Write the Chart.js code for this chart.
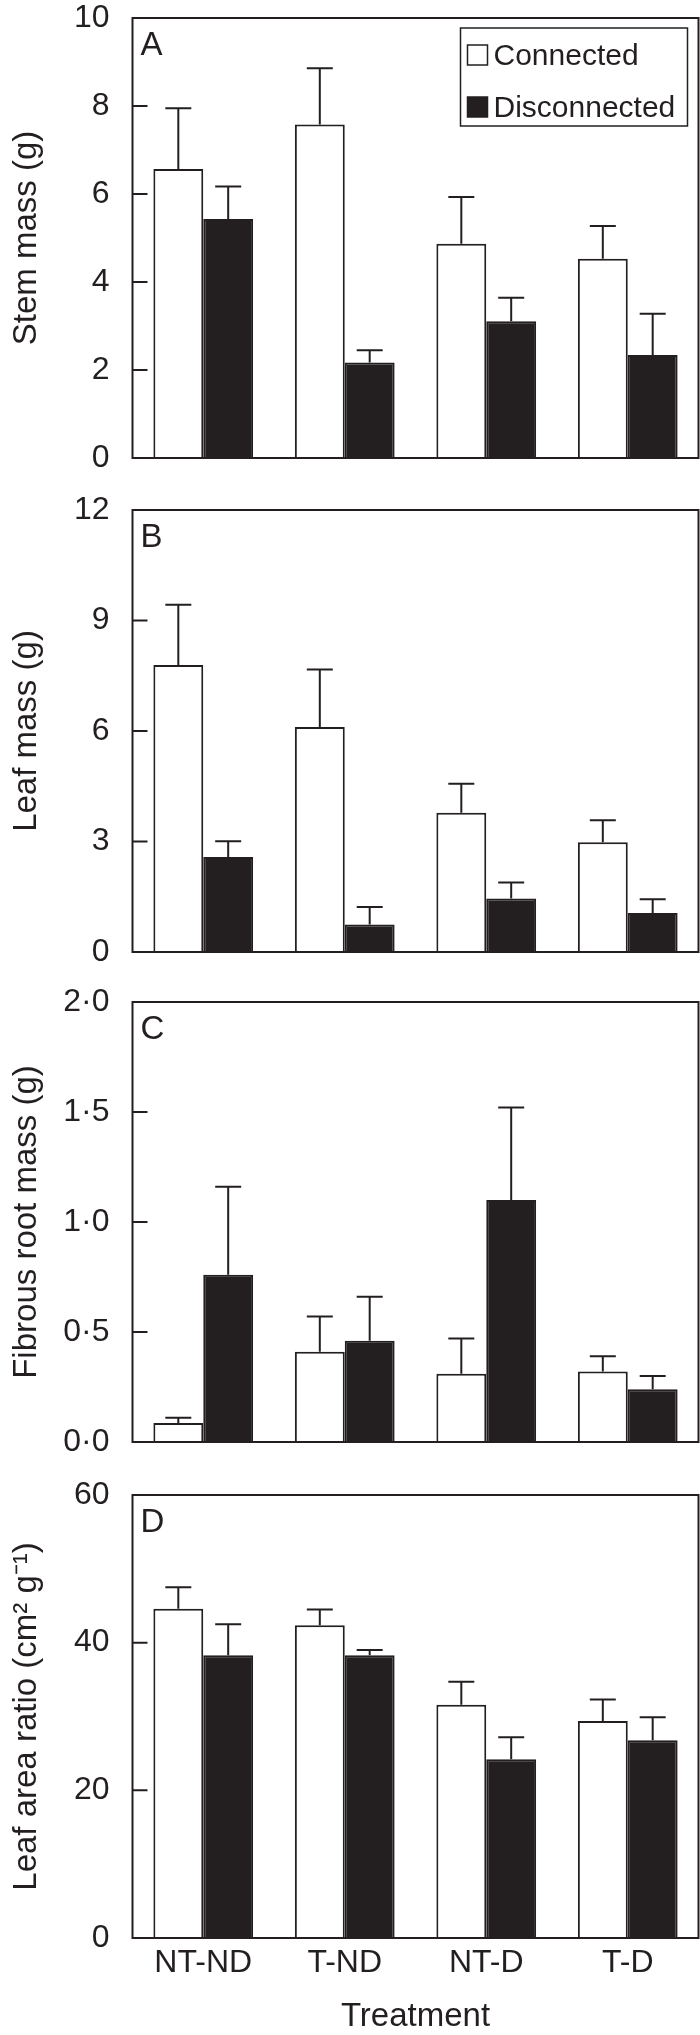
<!DOCTYPE html>
<html>
<head>
<meta charset="utf-8">
<script src="https://cdn.jsdelivr.net/npm/chart.js@4.4.1/dist/chart.umd.min.js"></script>
<style>
  html, body { margin: 0; padding: 0; background: #fff; }
  body { width: 700px; height: 2035px; position: relative; overflow: hidden; }
  canvas { position: absolute; left: 0; }
</style>
</head>
<body>
<canvas id="panelA" width="700" height="530" style="top:-27px"></canvas>
<canvas id="panelB" width="700" height="532" style="top:465px"></canvas>
<canvas id="panelC" width="700" height="530" style="top:957px"></canvas>
<canvas id="panelD" width="700" height="587" style="top:1450px"></canvas>
<script>
// categories + series
const categories = ["NT-ND", "T-ND", "NT-D", "T-D"];
const seriesNames = ["Connected", "Disconnected"];

// A - stem mass (g)
const stemConnected = [6.57, 7.58, 4.87, 4.53];
const stemConnectedSE = [1.38, 1.28, 1.06, 0.74];
const stemDisconnected = [5.43, 2.17, 3.11, 2.34];
const stemDisconnectedSE = [0.74, 0.28, 0.53, 0.94];
const stemTicks = [0, 2, 4, 6, 8, 10];
const stemTickLabels = ["0", "2", "4", "6", "8", "10"];

// B - leaf mass (g)
const leafConnected = [7.79, 6.11, 3.78, 2.98];
const leafConnectedSE = [1.64, 1.56, 0.79, 0.60];
const leafDisconnected = [2.58, 0.75, 1.45, 1.06];
const leafDisconnectedSE = [0.43, 0.47, 0.44, 0.37];
const leafTicks = [0, 3, 6, 9, 12];
const leafTickLabels = ["0", "3", "6", "9", "12"];

// C - fibrous root mass (g)
const rootConnected = [0.086, 0.41, 0.31, 0.32];
const rootConnectedSE = [0.024, 0.16, 0.16, 0.07];
const rootDisconnected = [0.76, 0.46, 1.10, 0.24];
const rootDisconnectedSE = [0.40, 0.20, 0.42, 0.06];
const rootTicks = [0, 0.5, 1, 1.5, 2];
const rootTickLabels = ["0·0", "0·5", "1·0", "1·5", "2·0"];

// D - leaf area ratio
const larConnected = [44.6, 42.35, 31.6, 29.4];
const larConnectedSE = [2.9, 2.15, 3.1, 2.9];
const larDisconnected = [38.3, 38.3, 24.2, 26.8];
const larDisconnectedSE = [4.2, 0.7, 3.0, 3.1];
const larTicks = [0, 20, 40, 60];
const larTickLabels = ["0", "20", "40", "60"];

const ink = "#231f20";
const family = "'Liberation Sans', Arial, Helvetica, sans-serif";

// box round the plot + inward ticks
const framePlugin = {
  id: "frame",
  afterDatasetsDraw(chart) {
    const { ctx, chartArea: a, scales } = chart;
    ctx.save();
    ctx.strokeStyle = ink;
    ctx.lineWidth = 2;
    ctx.strokeRect(a.left, a.top, a.right - a.left, a.bottom - a.top);
    ctx.beginPath();
    scales.y.ticks.forEach(t => {
      const y = scales.y.getPixelForValue(t.value);
      ctx.moveTo(a.left, y);
      ctx.lineTo(a.left + 15, y);
    });
    ctx.stroke();
    ctx.restore();
  }
};

// one-sided error bars
const errorBarPlugin = {
  id: "errorBars",
  afterDatasetsDraw(chart) {
    const { ctx } = chart;
    const yScale = chart.scales.y;
    ctx.save();
    ctx.strokeStyle = ink;
    ctx.lineWidth = 2;
    chart.data.datasets.forEach((ds, d) => {
      const meta = chart.getDatasetMeta(d);
      meta.data.forEach((bar, i) => {
        const top = yScale.getPixelForValue(ds.data[i] + ds.errors[i]);
        ctx.beginPath();
        ctx.moveTo(bar.x, bar.y);
        ctx.lineTo(bar.x, top);
        ctx.moveTo(bar.x - 13, top);
        ctx.lineTo(bar.x + 13, top);
        ctx.stroke();
      });
    });
    ctx.restore();
  }
};

// panel letter and legend box
const annotatePlugin = {
  id: "annotate",
  afterDraw(chart, args, opts) {
    const { ctx, chartArea: a } = chart;
    ctx.save();
    ctx.fillStyle = ink;
    ctx.font = "33px " + family;
    ctx.textBaseline = "alphabetic";
    ctx.fillText(opts.letter, a.left + 8, a.top + 37);
    if (opts.legend) {
      const lx = a.left + 328, ly = a.top + 10;
      ctx.strokeStyle = ink;
      ctx.lineWidth = 1.5;
      ctx.strokeRect(lx, ly, 227, 98);
      ctx.font = "30px " + family;
      chart.data.datasets.forEach((ds, d) => {
        const rowY = ly + 17 + d * 52;
        ctx.fillStyle = ds.backgroundColor;
        ctx.fillRect(lx + 7, rowY, 20, 20);
        ctx.strokeRect(lx + 7, rowY, 20, 20);
        ctx.fillStyle = ink;
        ctx.fillText(ds.label, lx + 33, rowY + 20);
      });
    }
    ctx.restore();
  }
};

function buildPanel(id, cfg) {
  const tickFont = { family: family, size: 32 };
  const titleFont = { family: family, size: 33 };
  new Chart(document.getElementById(id), {
    type: "bar",
    data: {
      labels: categories,
      datasets: [
        { label: seriesNames[0], data: cfg.connected, errors: cfg.connectedSE,
          backgroundColor: "#ffffff", borderColor: ink, borderWidth: 2 },
        { label: seriesNames[1], data: cfg.disconnected, errors: cfg.disconnectedSE,
          backgroundColor: ink, borderColor: ink, borderWidth: 2 }
      ]
    },
    options: {
      responsive: false,
      animation: false,
      layout: { padding: { top: 45, right: 1.5, left: 0, bottom: cfg.showX ? 0 : 45 } },
      datasets: { bar: { categoryPercentage: 0.705, barPercentage: 1 } },
      plugins: {
        legend: { display: false },
        tooltip: { enabled: false },
        annotate: { letter: cfg.letter, legend: cfg.legend }
      },
      scales: {
        x: {
          grid: { display: false, drawTicks: false },
          border: { display: false },
          ticks: { display: cfg.showX, padding: 6, color: ink, font: tickFont },
          title: { display: cfg.showX, text: "Treatment", color: ink, font: titleFont, padding: 0 },
          afterFit: s => { s.height = cfg.showX ? 99 : 0; }
        },
        y: {
          min: 0,
          max: cfg.ticks[cfg.ticks.length - 1],
          grid: { display: false, drawTicks: false },
          border: { display: false },
          afterBuildTicks: s => { s.ticks = cfg.ticks.map(v => ({ value: v })); },
          ticks: { padding: 23, color: ink, font: tickFont, callback: (v, i) => cfg.tickLabels[i] },
          title: { display: true, text: cfg.title, color: ink, font: titleFont, padding: { top: 7, bottom: 0 } },
          afterFit: s => { s.width = 132.5; }
        }
      }
    },
    plugins: [framePlugin, errorBarPlugin, annotatePlugin]
  });
}

buildPanel("panelA", {
  letter: "A", legend: true, showX: false, title: "Stem mass (g)",
  connected: stemConnected, connectedSE: stemConnectedSE,
  disconnected: stemDisconnected, disconnectedSE: stemDisconnectedSE,
  ticks: stemTicks, tickLabels: stemTickLabels
});
buildPanel("panelB", {
  letter: "B", legend: false, showX: false, title: "Leaf mass (g)",
  connected: leafConnected, connectedSE: leafConnectedSE,
  disconnected: leafDisconnected, disconnectedSE: leafDisconnectedSE,
  ticks: leafTicks, tickLabels: leafTickLabels
});
buildPanel("panelC", {
  letter: "C", legend: false, showX: false, title: "Fibrous root mass (g)",
  connected: rootConnected, connectedSE: rootConnectedSE,
  disconnected: rootDisconnected, disconnectedSE: rootDisconnectedSE,
  ticks: rootTicks, tickLabels: rootTickLabels
});
buildPanel("panelD", {
  letter: "D", legend: false, showX: true, title: "Leaf area ratio (cm² g⁻¹)",
  connected: larConnected, connectedSE: larConnectedSE,
  disconnected: larDisconnected, disconnectedSE: larDisconnectedSE,
  ticks: larTicks, tickLabels: larTickLabels
});
</script>
</body>
</html>
